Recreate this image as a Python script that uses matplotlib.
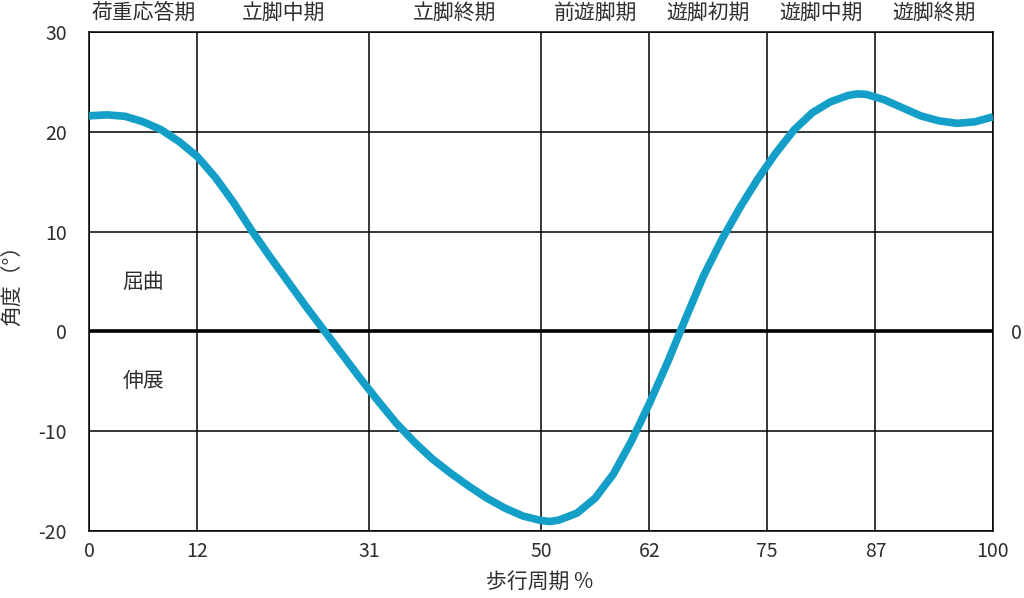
import matplotlib
matplotlib.use('Agg')
import matplotlib.pyplot as plt

plt.rcParams['font.family'] = ['Noto Sans CJK JP', 'DejaVu Sans']
plt.rcParams['axes.unicode_minus'] = False

# 歩行周期(%) と股関節角度(°)
cycle_pct = [0, 2, 4, 6, 8, 10, 12, 14, 16, 18, 20, 22, 24, 26, 28, 30, 32, 34,
             36, 38, 40, 42, 44, 46, 48, 50, 51, 52, 54, 56, 58, 60, 62, 64, 66,
             68, 70, 72, 74, 76, 78, 80, 82, 84, 85, 86, 88, 90, 92, 94, 96, 98, 100]
angle_deg = [21.6, 21.7, 21.55, 21.0, 20.2, 19.0, 17.5, 15.4, 12.9, 10.1, 7.5,
             5.0, 2.5, 0.1, -2.3, -4.7, -7.0, -9.2, -11.1, -12.8, -14.2, -15.5,
             -16.7, -17.7, -18.5, -18.95, -19.05, -18.9, -18.2, -16.7, -14.3,
             -11.0, -7.2, -3.1, 1.3, 5.6, 9.2, 12.4, 15.3, 17.9, 20.2, 21.9,
             23.0, 23.65, 23.8, 23.75, 23.2, 22.4, 21.6, 21.1, 20.85, 21.0, 21.5]

phase_edges = [0, 12, 31, 50, 62, 75, 87, 100]
phase_names = ['荷重応答期', '立脚中期', '立脚終期', '前遊脚期', '遊脚初期', '遊脚中期', '遊脚終期']
y_ticks = [-20, -10, 0, 10, 20, 30]

LINE_COLOR = '#149fc8'
TEXT_COLOR = '#2e2e2e'

fig = plt.figure(figsize=(10.24, 5.98), dpi=100)
ax = fig.add_axes([89 / 1024, 67 / 598, 904 / 1024, 499 / 598])

ax.set_xlim(0, 100)
ax.set_ylim(-20, 30)
ax.set_xticks(phase_edges)
ax.set_yticks(y_ticks)

# グリッド
for xv in phase_edges:
    ax.axvline(xv, color='black', linewidth=1.1, zorder=1)
for yv in y_ticks:
    ax.axhline(yv, color='black', linewidth=2.6 if yv == 0 else 1.1, zorder=1)
for sp in ax.spines.values():
    sp.set_linewidth(1.1)

ax.plot(cycle_pct, angle_deg, color=LINE_COLOR, linewidth=5.5,
        solid_capstyle='butt', solid_joinstyle='round', zorder=3)

ax.tick_params(axis='both', length=0, labelsize=14, labelcolor=TEXT_COLOR)
ax.tick_params(axis='y', pad=16)
ax.tick_params(axis='x', pad=7)

# 右側の 0
ax2 = ax.twinx()
ax2.set_ylim(-20, 30)
ax2.set_yticks([0])
ax2.tick_params(axis='y', length=0, labelsize=14, labelcolor=TEXT_COLOR, pad=13)
for sp in ax2.spines.values():
    sp.set_visible(False)

# 各期の名称
for i, name in enumerate(phase_names):
    mid = (phase_edges[i] + phase_edges[i + 1]) / 2
    ax.text(mid, 1.038, name, transform=ax.get_xaxis_transform(),
            ha='center', va='center', fontsize=15, color=TEXT_COLOR)

ax.text(6, 5, '屈曲', ha='center', va='center', fontsize=15, color=TEXT_COLOR)
ax.text(6, -5, '伸展', ha='center', va='center', fontsize=15, color=TEXT_COLOR)

fig.text(12 / 1024, 1 - 280 / 598, '角度（°）', rotation=90, ha='center', va='center',
         fontsize=15, color=TEXT_COLOR)
fig.text(540 / 1024, 1 - 582 / 598, '歩行周期 %', ha='center', va='center',
         fontsize=15, color=TEXT_COLOR)

fig.savefig('out.png', dpi=100)
